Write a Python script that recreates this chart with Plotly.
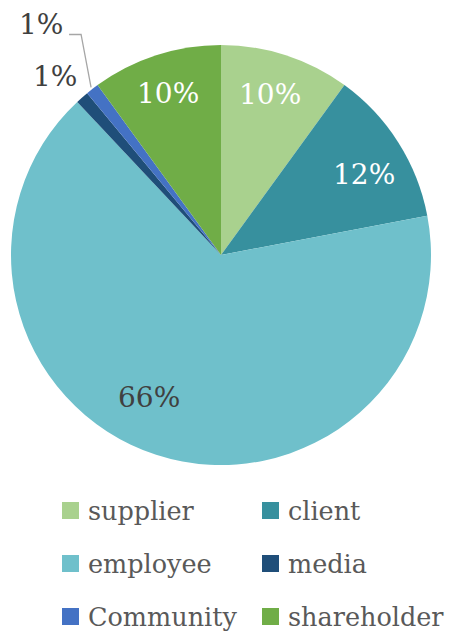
import math
import plotly.graph_objects as go

labels = ["supplier", "client", "employee", "media", "Community", "shareholder"]
values = [10, 12, 66, 1, 1, 10]
colors = ["#A9D18E", "#37909E", "#6FC0CB", "#1F4E79", "#4472C4", "#70AD47"]

W, H = 454, 631
CX, CY, R = 221, 255, 210          # pie centre / radius in pixels
FONT = "DejaVu Serif"
LABEL_SIZE = 28
DARK = "#404040"

total = sum(values)
pct = [f"{round(v / total * 100)}%" for v in values]

fig = go.Figure(go.Pie(
    labels=labels, values=values, sort=False, direction="clockwise", rotation=0,
    marker=dict(colors=colors, line=dict(width=0)),
    textinfo="none",
    domain=dict(x=[(CX - R) / W, (CX + R) / W], y=[1 - (CY + R) / H, 1 - (CY - R) / H]),
    showlegend=False, hoverinfo="label+percent",
))

def px_to_paper(x, y):
    return x / W, 1 - y / H

# mid angles (clockwise from 12 o'clock) from cumulative values
mids, cum = {}, 0
for l, v in zip(labels, values):
    mids[l] = (cum + v / 2) / total * 360
    cum += v

def point(angle_deg, r):
    a = math.radians(angle_deg)
    return CX + r * math.sin(a), CY - r * math.cos(a)

# data-label placement: (angle offset, radius factor, colour)
placement = {
    "supplier": (-1, 0.80, "white"),
    "client": (3, 0.78, "white"),
    "employee": (9, 0.76, DARK),
    "media": (-1.5, 1.16, DARK),
    "shareholder": (0, 0.81, "white"),
}

annotations = []
shapes = []
for l, p in zip(labels, pct):
    if l not in placement:
        continue
    off, rf, col = placement[l]
    px, py = point(mids[l] + off, rf * R)
    x, y = px_to_paper(px, py)
    annotations.append(dict(x=x, y=y, xref="paper", yref="paper", showarrow=False,
                            xanchor="center", yanchor="middle", text=p,
                            font=dict(family=FONT, size=LABEL_SIZE, color=col)))

# Community label (outside, with elbow leader line to the slice edge)
ex, ey = point(mids["Community"], R + 2)
lx, ly = px_to_paper(ex - 50, ey - 62.5)
annotations.append(dict(x=lx, y=ly, xref="paper", yref="paper", showarrow=False,
                        xanchor="center", yanchor="middle",
                        text=pct[labels.index("Community")],
                        font=dict(family=FONT, size=LABEL_SIZE, color=DARK)))
p0 = px_to_paper(ex - 22, ey - 53)
p1 = px_to_paper(ex - 10, ey - 53)
p2 = px_to_paper(ex, ey)
shapes.append(dict(type="path", xref="paper", yref="paper",
                   path=f"M {p0[0]},{p0[1]} L {p1[0]},{p1[1]} L {p2[0]},{p2[1]}",
                   line=dict(color="#A6A6A6", width=1.3)))

# legend drawn as a 2-column grid
col_x = [62, 262]
row_y = [510.5, 563.5, 616.5]
SW = 17
for i, (l, c) in enumerate(zip(labels, colors)):
    sx = col_x[i % 2]
    sy = row_y[i // 2]
    x0, y0 = px_to_paper(sx, sy + SW / 2)
    x1, y1 = px_to_paper(sx + SW, sy - SW / 2)
    shapes.append(dict(type="rect", xref="paper", yref="paper", x0=x0, y0=y0, x1=x1, y1=y1,
                       fillcolor=c, line=dict(width=0)))
    tx, ty = px_to_paper(sx + SW + 7, sy)
    annotations.append(dict(x=tx, y=ty, xref="paper", yref="paper", showarrow=False,
                            xanchor="left", yanchor="middle", text=l,
                            font=dict(family=FONT, size=25.5, color="#595959")))

fig.update_layout(
    width=W, height=H, margin=dict(l=0, r=0, t=0, b=0),
    paper_bgcolor="white", plot_bgcolor="white",
    annotations=annotations, shapes=shapes,
)
fig.write_html("out.html", config={"displayModeBar": False},
               post_script="document.body.style.margin='0';")
